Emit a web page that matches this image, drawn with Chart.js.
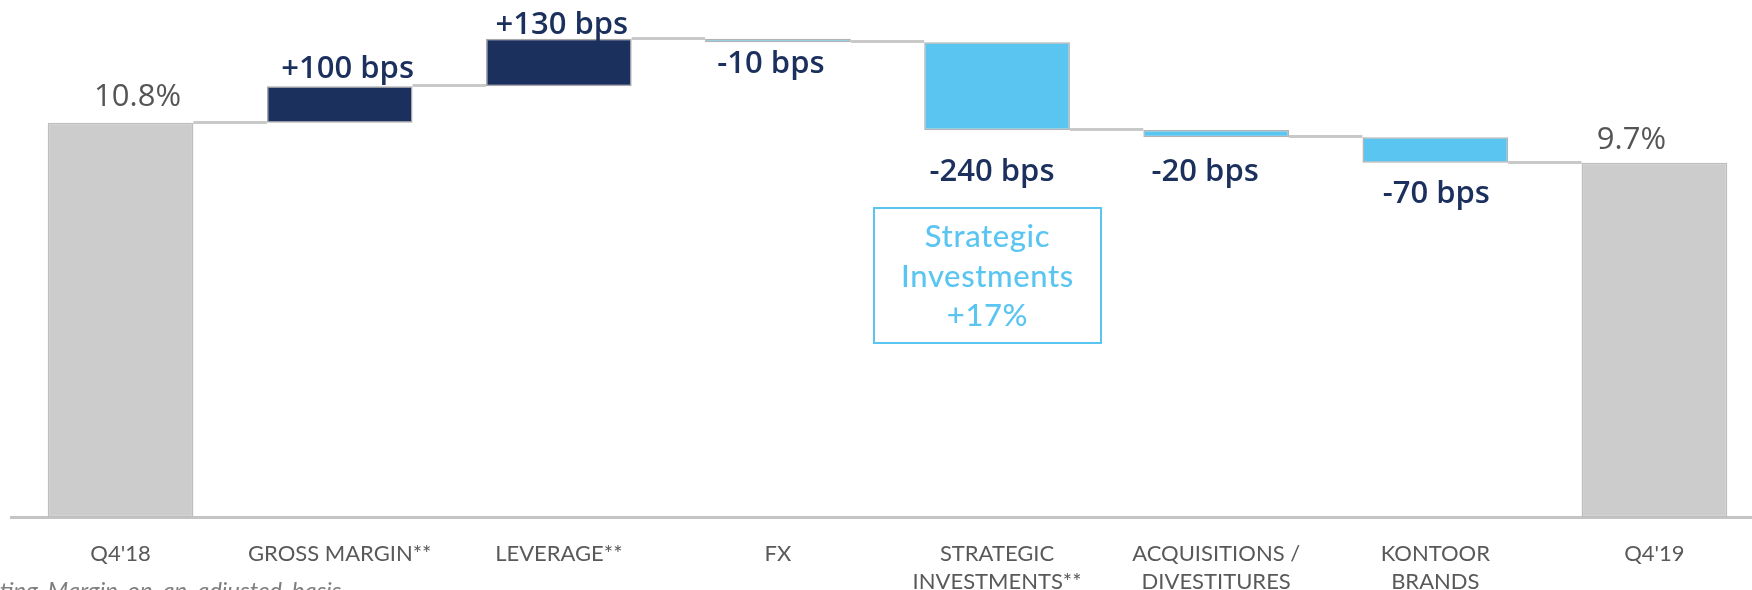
<!DOCTYPE html>
<html>
<head>
<meta charset="utf-8">
<script src="https://cdn.jsdelivr.net/npm/chart.js@4.4.1/dist/chart.umd.min.js"></script>
<style>
  html, body { margin:0; padding:0; background:#fff; overflow:hidden; width:1752px; height:590px; }
  #wrap { position:absolute; left:0; top:0; width:1764px; height:590px; }
  #box { position:absolute; left:873px; top:207px; width:229px; height:137px; box-sizing:border-box;
         border:2px solid #5bc5f2; color:#5bc5f2; font-family:Lato, 'Noto Sans', sans-serif; font-size:31px;
         font-weight:500; text-align:center; line-height:39.5px; padding-top:7px; letter-spacing:0.6px; }
  #foot { position:absolute; left:-62px; top:576px; font-family:Lato, 'Noto Sans', sans-serif; font-style:italic;
          font-size:24px; line-height:28px; color:#7f7f7f; white-space:nowrap; word-spacing:4px; }
</style>
</head>
<body>
<div id="wrap"><canvas id="c"></canvas></div>
<div id="box">Strategic<br>Investments<br>+17%</div>
<div id="foot">Operating Margin on an adjusted basis</div>
<script>
// ---- data ----
const categories = ["Q4'18", "GROSS MARGIN**", "LEVERAGE**", "FX", ["STRATEGIC", "INVESTMENTS**"], ["ACQUISITIONS /", "DIVESTITURES"], ["KONTOOR", "BRANDS"], "Q4'19"];
const startValue = 10.8;
const changes = [1.0, 1.3, -0.1, -2.4, -0.2, -0.7];
const endValue = 9.7;
const valueLabels = ["10.8%", "+100 bps", "+130 bps", "-10 bps", "-240 bps", "-20 bps", "-70 bps", "9.7%"];

// ---- build waterfall ranges ----
const ranges = [[0, startValue]];
const kinds = ['total'];
let run = startValue;
changes.forEach(d => {
  const next = Math.round((run + d) * 100) / 100;
  ranges.push([run, next]);
  kinds.push(d >= 0 ? 'up' : 'down');
  run = next;
});
ranges.push([0, endValue]);
kinds.push('total');

const fillFor = { total: '#cccccc', up: '#1c305e', down: '#5bc5f2' };
const borderFor = { total: '#bdbdbd', up: '#a9a9a9', down: '#b3b3b3' };

// label nudges (pixels): dx from bar centre, dy from bar edge to text baseline
const labelNudge = [
  { dx: 17, dy: -17 }, { dx: 8, dy: -8 }, { dx: 3, dy: -5 }, { dx: -7, dy: 31 },
  { dx: -5, dy: 51 }, { dx: -11, dy: 44 }, { dx: 1, dy: 40 }, { dx: -23, dy: -14 }
];

const connectorPlugin = {
  id: 'connectors',
  afterDatasetsDraw(chart) {
    const ctx = chart.ctx;
    const meta = chart.getDatasetMeta(0);
    const y = chart.scales.y;
    ctx.save();
    ctx.strokeStyle = '#c9c9c9';
    ctx.lineWidth = 3;
    for (let i = 0; i < ranges.length - 1; i++) {
      const a = meta.data[i], b = meta.data[i + 1];
      const level = ranges[i][1];
      const py = Math.round(y.getPixelForValue(level)) - 0.5;
      ctx.beginPath();
      ctx.moveTo(a.x + a.width / 2, py);
      ctx.lineTo(b.x - b.width / 2, py);
      ctx.stroke();
    }
    ctx.restore();
  }
};

const labelPlugin = {
  id: 'valueLabels',
  afterDatasetsDraw(chart) {
    const ctx = chart.ctx;
    const meta = chart.getDatasetMeta(0);
    const y = chart.scales.y;
    ctx.save();
    ctx.textAlign = 'center';
    ctx.textBaseline = 'alphabetic';
    meta.data.forEach((el, i) => {
      const r = ranges[i];
      const k = kinds[i];
      const topPx = y.getPixelForValue(Math.max(r[0], r[1]));
      const botPx = y.getPixelForValue(Math.min(r[0], r[1]));
      const n = labelNudge[i];
      if (k === 'total') {
        ctx.fillStyle = '#555555';
        ctx.font = '31px "Open Sans", "Noto Sans", sans-serif';
      } else {
        ctx.fillStyle = '#1c305e';
        ctx.font = '600 31px "Open Sans", "Noto Sans", sans-serif';
      }
      const py = (k === 'down') ? botPx + n.dy : topPx + n.dy;
      ctx.fillText(valueLabels[i], el.x + n.dx, py);
    });
    ctx.restore();
  }
};

new Chart(document.getElementById('c'), {
  type: 'bar',
  data: {
    labels: categories,
    datasets: [{
      data: ranges,
      backgroundColor: kinds.map(k => fillFor[k]),
      borderColor: kinds.map(k => borderFor[k]),
      borderWidth: 1.5,
      borderSkipped: false,
      categoryPercentage: 0.665,
      barPercentage: 1.0
    }]
  },
  options: {
    responsive: true,
    maintainAspectRatio: false,
    animation: false,
    devicePixelRatio: 1,
    layout: { padding: { left: 11, right: 0, top: 0, bottom: 0 } },
    plugins: { legend: { display: false }, tooltip: { enabled: false } },
    scales: {
      y: { display: false, min: 0, max: 14.16 },
      x: {
        grid: { display: false },
        border: { display: true, color: '#c4c4c4', width: 3 },
        ticks: {
          autoSkip: false, maxRotation: 0, minRotation: 0, padding: 15,
          color: '#595959',
          font: { family: 'Lato, "Noto Sans", sans-serif', size: 22, lineHeight: 1.27 }
        },
        afterFit(scale) { scale.height = 73; }
      }
    }
  },
  plugins: [connectorPlugin, labelPlugin]
});
</script>
</body>
</html>
